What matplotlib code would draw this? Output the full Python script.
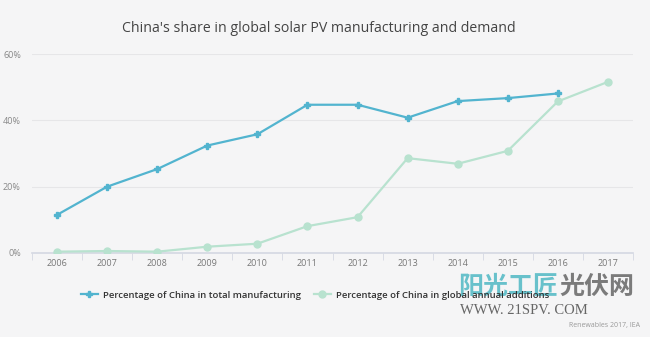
import matplotlib.pyplot as plt
from matplotlib.lines import Line2D

years = ["2006", "2007", "2008", "2009", "2010", "2011", "2012",
         "2013", "2014", "2015", "2016", "2017"]
manufacturing = [11.5, 20.0, 25.3, 32.4, 35.8, 44.7, 44.7,
                 40.8, 45.8, 46.7, 48.1]
annual_additions = [0.4, 0.6, 0.4, 1.9, 2.8, 8.1, 10.8,
                    28.6, 26.9, 30.8, 45.7, 51.6]

BG = "#f5f5f6"
BLUE = "#52b4cf"
GREEN = "#b8e2cf"

plt.rcParams["font.family"] = ["Open Sans", "DejaVu Sans"]

fig = plt.figure(figsize=(6.5, 3.37), dpi=100, facecolor=BG)
ax = fig.add_axes([32 / 650, 1 - 253 / 337, 601 / 650, 199 / 337])
ax.set_facecolor(BG)

x1 = list(range(len(manufacturing)))
x2 = list(range(len(annual_additions)))
ax.plot(x2, annual_additions, color=GREEN, lw=1.6, marker="o", ms=5,
        zorder=3)
ax.plot(x1, manufacturing, color=BLUE, lw=1.6, marker="P", ms=5,
        zorder=4)

ax.set_xlim(-0.5, len(years) - 0.5)
ax.set_ylim(0, 60)
ax.set_yticks([0, 20, 40, 60])
ax.set_yticklabels(["0%", "20%", "40%", "60%"])
ax.set_xticks(range(len(years)))
ax.set_xticklabels(years)
ax.set_xticks([i - 0.5 for i in range(len(years) + 1)], minor=True)

ax.tick_params(axis="y", length=0, labelsize=6.5, labelcolor="#888888",
               pad=8)
ax.tick_params(axis="x", which="major", length=0, labelsize=6.5,
               labelcolor="#777777", pad=4)
ax.tick_params(axis="x", which="minor", length=5, color="#d4d8e2")
ax.grid(axis="y", color="#e6e6e8", lw=0.8)
ax.set_axisbelow(True)
for s in ["top", "right", "left"]:
    ax.spines[s].set_visible(False)
ax.spines["bottom"].set_color("#d4d8e2")
ax.spines["bottom"].set_linewidth(1.2)

fig.text(0.49, 1 - 28 / 337, "China's share in global solar PV manufacturing and demand",
         ha="center", va="center", fontsize=10.2, color="#444444")

handles = [
    Line2D([], [], color=BLUE, lw=1.6, marker="P", ms=5),
    Line2D([], [], color=GREEN, lw=1.6, marker="o", ms=5),
]
labels = ["Percentage of China in total manufacturing",
          "Percentage of China in global annual additions"]
leg = fig.legend(handles, labels, loc="center", bbox_to_anchor=(0.485, 1 - 295 / 337),
                 ncol=2, frameon=False, fontsize=6.8, columnspacing=1.3,
                 handlelength=1.8, handletextpad=0.6)
for t in leg.get_texts():
    t.set_color("#333333")
    t.set_fontweight("semibold")

fig.text(0.985, 1 - 325 / 337, "Renewables 2017, IEA", ha="right",
         va="center", fontsize=5, color="#999999")

# site watermark
fig.text(458 / 650, 1 - 287 / 337, "阳光工匠", ha="left", va="center",
         fontsize=18, color="#4fb8c4", alpha=0.85, fontweight="bold",
         family=["Noto Sans CJK SC", "DejaVu Sans"])
fig.text(559 / 650, 1 - 287 / 337, "光伏网", ha="left", va="center",
         fontsize=18, color="#666666", alpha=0.85, fontweight="bold",
         family=["Noto Sans CJK SC", "DejaVu Sans"])
fig.text(460 / 650, 1 - 310 / 337, "WWW. 21SPV. COM", ha="left", va="center",
         fontsize=10.5, color="#666666", family=["Liberation Serif", "DejaVu Serif"])

fig.savefig("out.png", dpi=100, facecolor=BG)
